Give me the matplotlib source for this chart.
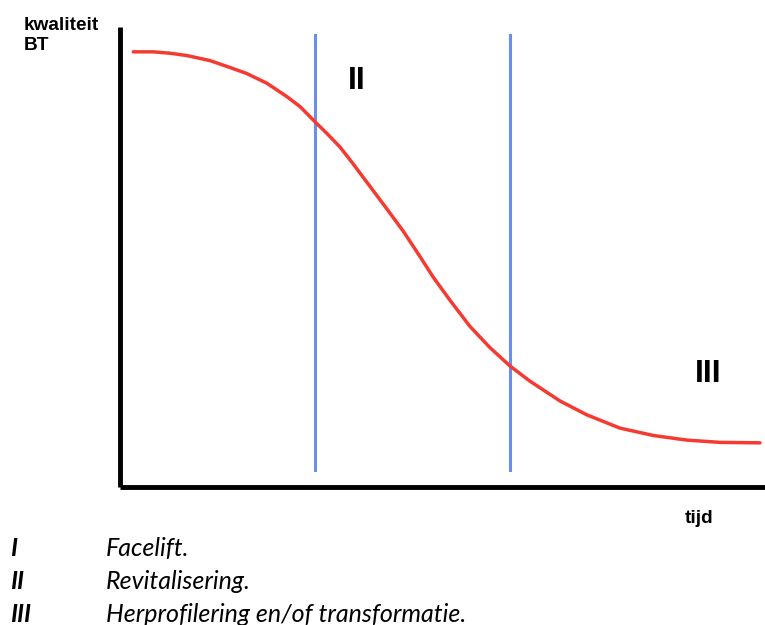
import matplotlib
matplotlib.use("Agg")
import matplotlib.pyplot as plt

# Data (time 0-100, quality 0-100)
tijd = [2.06, 5.16, 7.75, 10.34, 13.95, 17.05, 19.64, 22.74, 25.84, 27.91, 30.23,
        32.05, 34.11, 36.17, 38.25, 41.35, 43.92, 46.51, 48.57, 51.16, 54.26, 57.36,
        60.47, 63.57, 68.22, 72.36, 77.52, 82.68, 87.86, 93.02, 99.22]
kwaliteit = [94.6, 94.6, 94.3, 93.8, 92.7, 91.2, 89.9, 87.8, 84.9, 82.7, 79.4,
             76.9, 73.9, 70.2, 66.3, 60.5, 55.6, 50.1, 45.6, 40.6, 34.9, 30.3,
             26.3, 23.0, 18.7, 15.7, 12.8, 11.2, 10.2, 9.7, 9.6]
grenzen = [30.2, 60.5]
fase_labels = ["II", "III"]
fase_pos = [(36.7, 88.3), (91.2, 24.6)]
legend_keys = ["I", "II", "III"]
legend_texts = ["Facelift.", "Revitalisering.", "Herprofilering en/of transformatie."]

W, H = 765, 625
fig = plt.figure(figsize=(W / 100, H / 100), dpi=100)
fig.patch.set_facecolor("white")

ax = fig.add_axes([120 / W, (H - 487) / H, 645 / W, 460 / H])
ax.set_xlim(0, 100)
ax.set_ylim(0, 100)
for s in ["top", "right"]:
    ax.spines[s].set_visible(False)
for s in ["left", "bottom"]:
    ax.spines[s].set_linewidth(3.5)
    ax.spines[s].set_color("black")
    ax.spines[s].set_capstyle("butt")
ax.set_xticks([])
ax.set_yticks([])

ax.plot(tijd, kwaliteit, color="#f53a32", lw=2.5, solid_capstyle="round",
        solid_joinstyle="round", zorder=3)
for g in grenzen:
    ax.plot([g, g], [3.7, 98.3], color="#6a8df0", lw=2.2, zorder=2)

for lab, (x, y) in zip(fase_labels, fase_pos):
    ax.text(x, y, lab, ha="center", va="center", fontsize=23, fontweight="bold",
            family="Liberation Sans", color="black")

def fx(px):
    return px / W

def fy(py):
    return 1 - py / H

fig.text(fx(24), fy(30), "kwaliteit", ha="left", va="baseline", fontsize=13.7,
         fontweight="bold", family="Liberation Sans")
fig.text(fx(24), fy(50), "BT", ha="left", va="baseline", fontsize=13.7,
         fontweight="bold", family="Liberation Sans")
fig.text(fx(699), fy(523), "tijd", ha="center", va="baseline", fontsize=13.7,
         fontweight="bold", family="Liberation Sans")

for i, (k, t) in enumerate(zip(legend_keys, legend_texts)):
    y = 556 + i * 33
    fig.text(fx(10), fy(y), k, ha="left", va="baseline", fontsize=18,
             fontweight="bold", style="italic", family="Lato")
    fig.text(fx(106), fy(y), t, ha="left", va="baseline", fontsize=18,
             style="italic", family="Lato")

fig.savefig("out.png", dpi=100)
